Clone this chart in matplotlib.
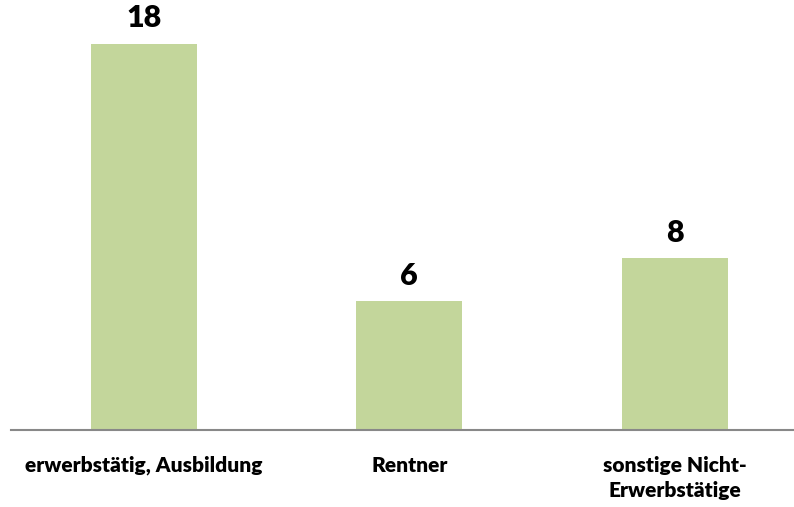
import matplotlib.pyplot as plt

categories = ["erwerbstätig, Ausbildung", "Rentner", "sonstige Nicht-\nErwerbstätige"]
values = [18, 6, 8]

plt.rcParams["font.family"] = ["Lato", "DejaVu Sans"]

fig = plt.figure(figsize=(7.94, 5.07), dpi=100)
ax = fig.add_axes([11.4 / 794, 77.5 / 507, 782.6 / 794, 429.5 / 507])

x = list(range(len(categories)))
bars = ax.bar(x, values, width=0.4, color="#C3D69B")

# Werte über den Balken
for b, v in zip(bars, values):
    ax.annotate(str(v), (b.get_x() + b.get_width() / 2, v), xytext=(0, 8),
                textcoords="offset points", ha="center", va="bottom",
                fontsize=22, fontweight="heavy")

ax.set_xlim(-0.5, 2.45)
ax.set_ylim(0, 20.03)
ax.set_xticks(x)
ax.set_xticklabels(categories, fontsize=15, fontweight="heavy", linespacing=1.4)
ax.tick_params(axis="x", length=0, pad=19)
ax.set_yticks([])
for s in ["top", "right", "left"]:
    ax.spines[s].set_visible(False)
ax.spines["bottom"].set_color("#888888")
ax.spines["bottom"].set_linewidth(1.5)

fig.savefig("out.png", dpi=100)
